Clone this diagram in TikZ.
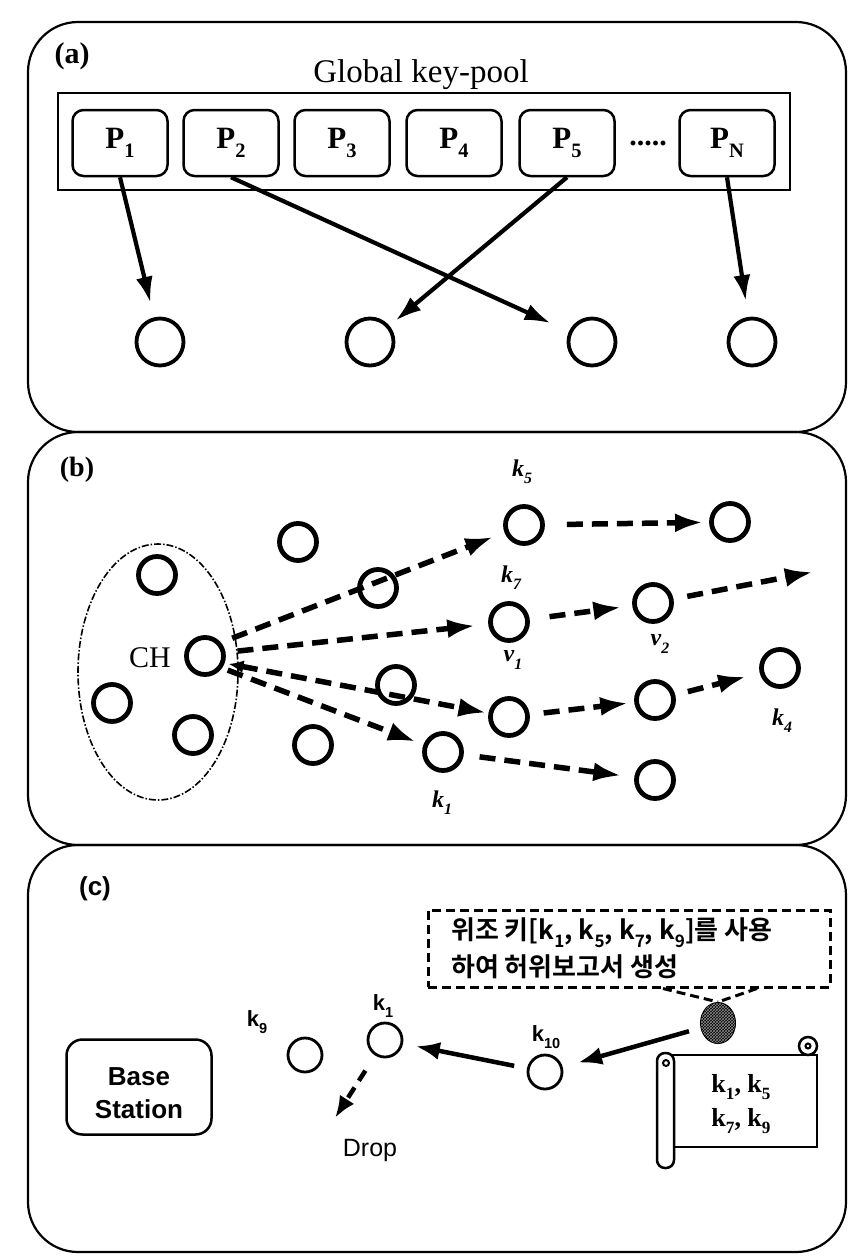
\documentclass[tikz,border=0pt]{standalone}
\usepackage{fontspec}
\setmainfont{Liberation Serif}
\setsansfont{Liberation Sans}
\newfontfamily\krfont{Noto Sans CJK KR}[BoldFont={* Bold}]
\usetikzlibrary{arrows.meta,patterns,shapes.geometric}
\newcommand\lsub[1]{\raisebox{-0.3em}{\scalebox{0.66}{#1}}}
\newcommand\fsz[2][]{\fontsize{#2}{#2}\selectfont}

\begin{document}
\begin{tikzpicture}[x=1pt,y=-1pt,
  panel/.style={draw, line width=2.2pt, rounded corners=50pt},
  pool/.style={draw, line width=2.5pt, inner sep=0pt},
  keybox/.style={draw, line width=2.5pt, rounded corners=11pt, minimum width=95pt,
    minimum height=66pt, inner sep=0pt, font=\fsz{31}\bfseries},
  nodeA/.style={circle, draw, line width=3.8pt, minimum size=47pt, inner sep=0pt},
  nodeB/.style={circle, draw, line width=4.8pt, minimum size=37pt, inner sep=0pt},
  nodeC/.style={circle, draw, line width=2.8pt, minimum size=34pt, inner sep=0pt},
  solidarrow/.style={line width=4.2pt, -{Latex[length=26pt,width=17pt]}},
  dasharrow/.style={line width=5.5pt, dash pattern=on 16pt off 9pt,
    -{Latex[length=28pt,width=19pt]}},
  solidC/.style={line width=4.5pt, -{Latex[length=24pt,width=18pt]}},
  dashedC/.style={line width=4.5pt, dash pattern=on 12pt off 8pt,
    -{Latex[length=22pt,width=17pt]}},
  klabel/.style={font=\fsz{24}\bfseries\itshape, inner sep=0pt},
  kclabel/.style={font=\sffamily\bfseries\fsz{22}, inner sep=0pt},
  notebox/.style={draw, dash pattern=on 9pt off 5pt, line width=3pt},
  scroll/.style={draw, line width=2.5pt, fill=white},
]
\useasboundingbox (0,0) rectangle (850,1256);

% three stacked panels
\path[panel] (28,22) rectangle (846,432);
\path[panel] (28,432) rectangle (846,845);
\path[panel] (28,845) rectangle (846,1252);

% ---------- (a) key pool ----------
\node[font=\fsz{30}\bfseries] (lblA) at (72,56) {(a)};
\node[font=\fsz{33}] (pooltitle) at (421,75) {Global key-pool};
\node[pool, minimum width=732pt, minimum height=97pt] (poolbox) at (424,141.5) {};
\node[keybox] (P1) at (120,143) {P\lsub{1}};
\node[keybox] (P2) at (231,143) {P\lsub{2}};
\node[keybox] (P3) at (342,143) {P\lsub{3}};
\node[keybox] (P4) at (454,143) {P\lsub{4}};
\node[keybox] (P5) at (567,143) {P\lsub{5}};
\node[font=\fsz{30}\bfseries, inner sep=0pt] (dots) at (648,143) {.....};
\node[keybox] (PN) at (727,143) {P\lsub{N}};

\node[nodeA] (a1) at (160,342) {};
\node[nodeA] (a2) at (370,342) {};
\node[nodeA] (a3) at (592,342) {};
\node[nodeA] (a4) at (752,342) {};

\draw[solidarrow, shorten >=15pt] (P1.south) -- (a1);
\draw[solidarrow, shorten >=20pt] (P2.south) -- (a3);
\draw[solidarrow, shorten >=8pt]  (P5.south) -- (a2);
\draw[solidarrow, shorten >=16pt] (PN.south) -- (a4);

% ---------- (b) cluster and key paths ----------
\node[font=\fsz{28}\bfseries] (lblB) at (77,470) {(b)};
\node[ellipse, draw, line width=1.6pt, dash pattern=on 7pt off 2pt on 1.5pt off 2pt,
  minimum width=160pt, minimum height=256pt] (cluster) at (158,672) {};
\node[nodeB] (c1) at (157,575) {};
\node[nodeB] (c2) at (112,703) {};
\node[nodeB] (c3) at (193,735) {};
\node[nodeB] (CH) at (205,656) {};
\node[font=\fsz{30}, inner sep=0pt] (chl) at (150,658) {CH};

\node[nodeB] (o1) at (298,542) {};
\node[nodeB] (o2) at (378,588) {};
\node[nodeB] (o3) at (396,685) {};
\node[nodeB] (o4) at (313,745) {};

\node[nodeB] (k5) at (524,525) {};
\node[nodeB] (tr) at (730,522) {};
\node[nodeB] (v1) at (509,622) {};
\node[nodeB] (v2) at (653,603) {};
\node[nodeB] (mid) at (509,717) {};
\node[nodeB] (m2) at (655,700) {};
\node[nodeB] (k4) at (780,668) {};
\node[nodeB] (k1) at (443,752) {};
\node[nodeB] (br) at (655,780) {};
\coordinate (off) at (813,572);

\node[klabel] (k5l) at (522,472) {k\lsub{5}};
\node[klabel] (k7l) at (511,578) {k\lsub{7}};
\node[klabel] (v1l) at (513,660) {v\lsub{1}};
\node[klabel] (v2l) at (660,644) {v\lsub{2}};
\node[klabel] (k4l) at (782,721) {k\lsub{4}};
\node[klabel] (k1l) at (442,803) {k\lsub{1}};

\draw[dasharrow, shorten <=12pt, shorten >=12pt] (CH.40) -- (k5);
\draw[dasharrow, shorten <=12pt, shorten >=13pt] (CH.10) -- (v1);
\draw[dasharrow, {Latex[length=15pt,width=13pt]}-{Latex[length=28pt,width=19pt]},
  shorten <=4pt, shorten >=2pt] (CH.-20) -- (mid);
\draw[dasharrow, shorten <=6pt, shorten >=8pt] (CH.-35) -- (k1);
\draw[dasharrow, shorten <=22pt, shorten >=6pt] (k5) -- (tr);
\draw[dasharrow, shorten <=20pt, shorten >=11pt] (v1) -- (v2);
\draw[dasharrow, shorten <=14pt] (v2) -- (off);
\draw[dasharrow, shorten <=14pt, shorten >=6pt] (mid) -- (m2);
\draw[dasharrow, shorten <=13pt, shorten >=14pt] (m2) -- (k4);
\draw[dasharrow, shorten <=16pt, shorten >=13pt] (k1) -- (br);

% ---------- (c) forged report ----------
\node[font=\sffamily\bfseries\fsz{26}] (lblC) at (95,889) {(c)};
\node[draw, line width=2.5pt, rounded corners=16pt, minimum width=145pt,
  minimum height=95pt, inner sep=0pt] (bs) at (139,1087) {};
\node[font=\sffamily\bfseries\fontsize{26}{33}\selectfont, align=center, inner sep=0pt]
  (bstext) at ([yshift=-6pt]bs.center) {Base\\Station};

\node[nodeC] (k9c) at (305,1055) {};
\node[nodeC] (k1c) at (385,1040) {};
\node[nodeC] (k10) at (545,1072) {};
\node[kclabel] (k9l) at (257,1022) {k\lsub{9}};
\node[kclabel] (k1cl) at (383,1006) {k\lsub{1}};
\node[kclabel] (k10l) at (546,1037) {k\lsub{10}};

\coordinate (dropend) at (335,1118);
\node[font=\sffamily\fsz{25}] (drop) at (370,1150) {Drop};
\draw[dashedC, shorten <=18pt] (k1c) -- (dropend);
\draw[solidC, shorten <=13pt, shorten >=13pt] (k10) -- (k1c);

% speech box
\node[notebox, minimum width=402pt, minimum height=77pt, inner sep=0pt] (note) at (629,948.5) {};
\node[font=\krfont\bfseries\fontsize{26}{37}\selectfont, anchor=west, align=left, inner sep=0pt]
  (notetext) at (451,948)
  {위조 키[k\lsub{1}, k\lsub{5}, k\lsub{7}, k\lsub{9}]를 사용\\하여 허위보고서 생성};

% compromised node
\node[ellipse, minimum width=34pt, minimum height=40pt, inner sep=0pt, draw,
  line width=2pt, fill=black,
  postaction={pattern=crosshatch, pattern color=black!45}] (spot) at (718,1023) {};
\draw[notebox] ([xshift=34pt]note.south) -- (spot.north);
\draw[notebox] ([xshift=128pt]note.south) -- (spot.north);
\draw[solidC, shorten <=12pt, shorten >=16pt] (spot) -- (k10);

% scroll with the stolen keys
\draw[scroll] (665,1055) rectangle (817,1147);
\draw[scroll] (808,1046) circle (9pt);
\draw[line width=2pt] (808,1046) circle (2.5pt);
\draw[scroll, rounded corners=8pt] (657,1053) rectangle (674,1168);
\draw[line width=2pt] (666,1063) circle (3pt);
\node[font=\fontsize{26}{34}\selectfont\bfseries, align=center, inner sep=0pt]
  (scrolltext) at (741,1104) {k\lsub{1}, k\lsub{5}\\k\lsub{7}, k\lsub{9}};
\end{tikzpicture}
\end{document}
